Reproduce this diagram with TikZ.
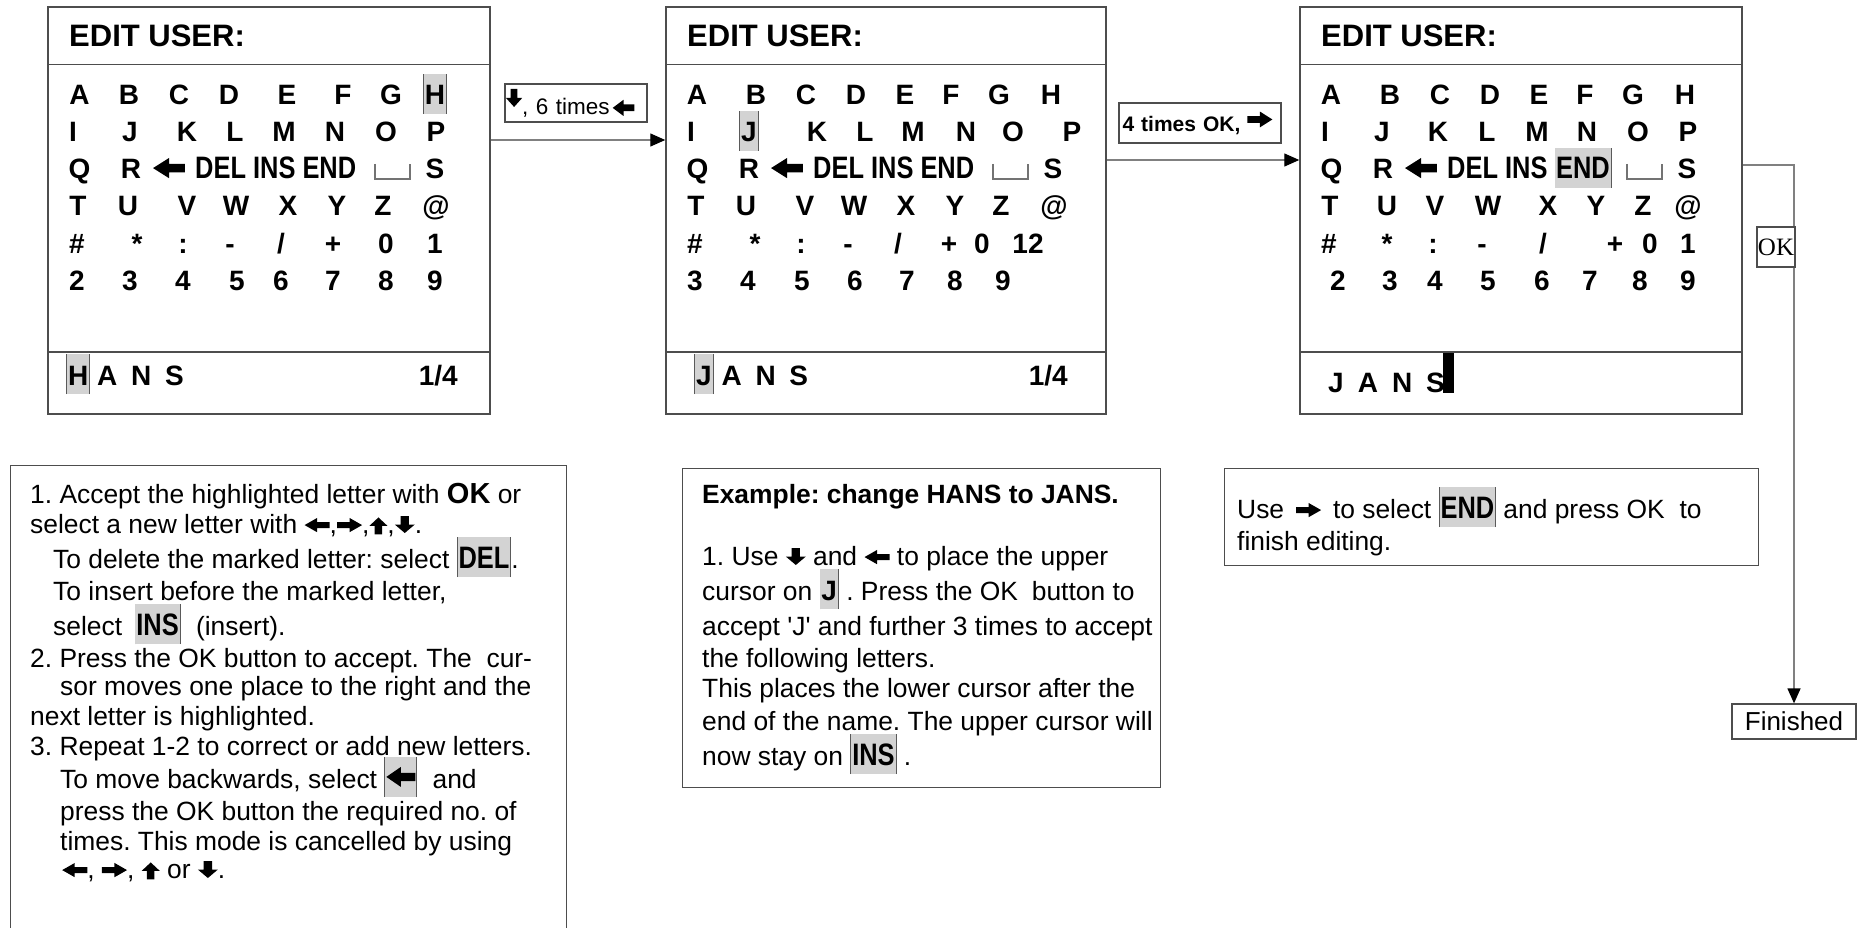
\documentclass[tikz,border=0pt]{standalone}
\usepackage{fontspec}
\setmainfont{Liberation Sans}
\newfontfamily\arialplain{Liberation Sans}
\newfontfamily\timesfont{Liberation Serif}
\usepackage{graphicx}
\usetikzlibrary{arrows.meta}
\frenchspacing
\definecolor{hlgray}{HTML}{D3D3D3}
\definecolor{hledge}{HTML}{5A5A5A}
\definecolor{boxline}{HTML}{4D4D4D}
\definecolor{linkgray}{HTML}{808080}
\newsavebox\hlbox
\newcommand\hl[1]{{\setlength\fboxsep{1pt}\sbox\hlbox{\colorbox{hlgray}{\rule[-8pt]{0pt}{38pt}#1}}\textcolor{hledge}{\vrule height\ht\hlbox depth\dp\hlbox width 0.9pt}\usebox\hlbox\textcolor{hledge}{\vrule height\ht\hlbox depth\dp\hlbox width 0.9pt}}}
% thick arrow: #1 angle, #2 length scale, #3 width scale, #4 raise of centre
\newcommand\tarr[4]{\tikz[baseline={(0pt,-#4)}]\fill[rotate=#1,xscale=#2,yscale=#3] (-0.5em,0pt) -- (0em,0.36em) -- (0em,0.15em) -- (0.5em,0.15em) -- (0.5em,-0.15em) -- (0em,-0.15em) -- (0em,-0.36em) -- cycle;}
\newcommand\tL{\tarr{0}{0.95}{0.75}{0.3em}}
\newcommand\tR{\tarr{180}{0.95}{0.75}{0.3em}}
\newcommand\tU{\tarr{-90}{0.64}{0.95}{0.27em}}
\newcommand\tD{\tarr{90}{0.64}{1.05}{0.32em}}
\newcommand\gridarrow{\tarr{0}{1.14}{1.0}{0.39em}}
\newcommand\slashch{/}
\newcommand\bodyfont{\fontsize{26.4}{31}\selectfont}
\newcommand\gridfont{\fontsize{28}{32}\selectfont\bfseries}
\newcommand\hdrfont{\fontsize{31}{36}\selectfont\bfseries}
\newcommand\cond[1]{\scalebox{0.82}[1]{\fontsize{31}{34}\selectfont\bfseries #1}}
\tikzset{
 scrbox/.style={draw=boxline, line width=1.5pt, minimum height=407pt, inner sep=0pt},
 sepline/.style={draw=boxline, line width=1.5pt},
 glyph/.style={anchor=base, inner sep=0pt, font=\gridfont},
 spacech/.style={draw=black!55, line width=1.2pt},
 tline/.style={anchor=base west, inner sep=0pt, font=\bodyfont},
 tbox/.style={draw=boxline, line width=1.3pt, inner sep=0pt},
 cnx/.style={draw=linkgray, line width=1.4pt, -{Triangle[length=15pt,width=13pt,color=black]}},
 lbl/.style={draw=boxline, line width=1.3pt, fill=white},
}
\newcommand\screenframe[3]{%
 \node[scrbox, minimum width=#3pt] (#1) at (#2+#3/2,210.5) {};
 \draw[sepline] (#2,64.5) -- (#2+#3,64.5);
 \draw[sepline] (#2,352) -- (#2+#3,352);
 \node[anchor=base west, inner sep=0pt, font=\hdrfont] (#1-title) at (#2+21,47) {EDIT USER:};}
\newcommand\gridrow[4]{\foreach \rx/\tx [count=\k] in {#4} {\node[glyph] (#1-#3-\k) at (#2+\rx,#3) {\tx};}}
\newcommand\rowthree[3]{%
 \node[glyph] (#1-q) at (#2+31.5,179) {Q};
 \node[glyph] (#1-r) at (#2+83,179) {R};
 \node[glyph] (#1-bk) at (#2+121,179) {\gridarrow};
 \node[glyph, anchor=base west] (#1-die) at (#2+147,179) {#3};
 \draw[spacech] (#2+327,164) -- (#2+327,179) -- (#2+362,179) -- (#2+362,164);
 \node[glyph] (#1-s) at (#2+387,179) {S};}
\begin{document}
\begin{tikzpicture}[x=1pt,y=-1pt]
\useasboundingbox (0,0) rectangle (1858,928);
\fill[white] (0,0) rectangle (1858,928);

% ---------- screen 1 ----------
\screenframe{s1}{48}{442}
\gridrow{s1}{48}{105}{31.5/A,81/B,131/C,181/D,239/E,295/F,343/G,387/{\hl{H}}}
\gridrow{s1}{48}{142}{25/I,82/J,139/K,187/L,236/M,287/N,338/O,388/P}
\rowthree{s1}{48}{\cond{DEL INS END}}
\gridrow{s1}{48}{216}{30/T,80/U,139/V,188/W,240/X,289/Y,335/Z,388/@}
\gridrow{s1}{48}{253}{29/\#,89/*,135/:,182/-,233/{\slashch},285/+,338/0,387/1}
\gridrow{s1}{48}{290}{29/2,82/3,135/4,189/5,233/6,285/7,338/8,387/9}
\node[glyph, anchor=base west] (s1-name) at (66,385) {\hl{H}\hspace{7pt}A\hspace{0.49em}N\hspace{0.49em}S};
\node[glyph, anchor=base east] (s1-page) at (458,385) {1/4};

% ---------- screen 2 ----------
\screenframe{s2}{666}{440}
\gridrow{s2}{666}{105}{31/A,90/B,140/C,190/D,239/E,285/F,333/G,385/H}
\gridrow{s2}{666}{142}{25/I,83/{\hl{J}},151/K,199/L,247/M,300/N,347/O,406/P}
\rowthree{s2}{666}{\cond{DEL INS END}}
\gridrow{s2}{666}{216}{30/T,80/U,139/V,188/W,240/X,289/Y,335/Z,388/@}
\gridrow{s2}{666}{253}{29/\#,89/*,135/:,182/-,232/{\slashch},283/+,316/0,362/12}
\gridrow{s2}{666}{290}{29/3,82/4,136/5,189/6,241/7,289/8,337/9}
\node[glyph, anchor=base west] (s2-name) at (694,385) {\hl{J}\hspace{8pt}A\hspace{0.49em}N\hspace{0.49em}S};
\node[glyph, anchor=base east] (s2-page) at (1068,385) {1/4};

% ---------- screen 3 ----------
\screenframe{s3}{1300}{442}
\gridrow{s3}{1300}{105}{31/A,90/B,140/C,190/D,239/E,285/F,333/G,385/H}
\gridrow{s3}{1300}{142}{25/I,82/J,138/K,187/L,237/M,287/N,338/O,388/P}
\rowthree{s3}{1300}{\cond{DEL INS \hl{END}}}
\gridrow{s3}{1300}{216}{30/T,87/U,135/V,188/W,248/X,296/Y,343/Z,388/@}
\gridrow{s3}{1300}{253}{29/\#,87/*,133/:,182/-,243/{\slashch},315/+,350/0,388/1}
\gridrow{s3}{1300}{290}{38/2,90/3,135/4,188/5,242/6,290/7,340/8,388/9}
\node[glyph, anchor=base west] (s3-name) at (1328,392) {J\hspace{0.5em}A\hspace{0.5em}N\hspace{0.5em}S};
\fill (1443,353) rectangle (1454,393);

% ---------- connectors ----------
\coordinate (c1) at (0,140);
\coordinate (c2) at (0,160);
\coordinate (c3) at (0,165);
\node[tbox, minimum width=124pt, minimum height=35pt, font=\fontsize{26}{30}\selectfont] (fin) at (1794,721.5) {Finished};
\draw[cnx] (s1.east |- c1) -- (s2.west |- c1);
\draw[cnx] (s2.east |- c2) -- (s3.west |- c2);
\draw[cnx] (s3.east |- c3) -| (fin.north);
\node[lbl, text width=140pt, inner xsep=1pt, inner ysep=0pt, minimum height=38pt, align=left, font=\fontsize{22.5}{26}\selectfont] (l1) at (576,103) {\tarr{90}{0.8}{1.0}{0.72em}, 6 times\hspace{3pt}\tarr{0}{0.96}{1.0}{0.28em}};
\node[lbl, text width=155pt, inner xsep=3.5pt, inner ysep=0pt, minimum height=40pt, align=left, font=\fontsize{21}{25}\selectfont\bfseries] (l2) at (1200,123) {4 times OK, \tarr{180}{1.19}{1.05}{0.56em}};
\node[lbl, minimum width=38pt, minimum height=40pt, inner sep=0pt, font=\timesfont\fontsize{25}{28}\selectfont] (okl) at (1776,247) {OK};

% ---------- left text box ----------
\node[tbox, minimum width=556pt, minimum height=480pt, anchor=north west] (lbox) at (10,465) {};
\node[tline] (t1) at (30,503) {1. Accept the highlighted letter with {\fontsize{29}{32}\selectfont\bfseries OK} or};
\node[tline] (t2) at (30,533) {select a new letter with \tL,\tR,\tU,\tD.};
\node[tline] (t3) at (53,568) {To delete the marked letter: select \hl{\cond{DEL}}.};
\node[tline] (t4) at (53,600) {To insert before the marked letter,};
\node[tline] (t5) at (53,635) {select \hspace{5pt}\hl{\cond{INS}}\hspace{8pt} (insert).};
\node[tline] (t6) at (30,667) {2. Press the OK button to accept. The \ cur-};
\node[tline] (t7) at (60,695) {sor moves one place to the right and the};
\node[tline] (t8) at (30,725) {next letter is highlighted.};
\node[tline] (t9) at (30,755) {3. Repeat 1-2 to correct or add new letters.};
\node[tline] (t10) at (60,788) {To move backwards, select \hl{\tarr{0}{1.1}{1.05}{0.42em}}\hspace{8pt} and};
\node[tline] (t11) at (60,820) {press the OK button the required no. of};
\node[tline] (t12) at (60,850) {times. This mode is cancelled by using};
\node[tline] (t13) at (62,878) {\tL, \tR, \tU{} or \tD.};

% ---------- example box ----------
\node[tbox, minimum width=478pt, minimum height=319pt, anchor=north west] (ebox) at (682,468) {};
\node[tline, font=\bodyfont\bfseries] (e0) at (702,503) {Example: change HANS to JANS.};
\node[tline] (e1) at (702,565) {1. Use \tD\ and \tL\ to place the upper};
\node[tline] (e2) at (702,600) {cursor on \hl{{\gridfont J}} . Press the OK\hspace{0.25em} button to};
\node[tline] (e3) at (702,635) {accept {\arialplain 'J'} and further 3 times to accept};
\node[tline] (e4) at (702,667) {the following letters.};
\node[tline] (e5) at (702,697) {This places the lower cursor after the};
\node[tline] (e6) at (702,730) {end of the name. The upper cursor will};
\node[tline] (e7) at (702,765) {now stay on \hl{\cond{INS}} .};

% ---------- use box ----------
\node[tbox, minimum width=534pt, minimum height=97pt, anchor=north west] (ubox) at (1224,468) {};
\node[tline] (u1) at (1237,518) {Use\hspace{0.45em}\tR\hspace{0.45em}to select \hl{\cond{END}} and press OK\ \ to};
\node[tline] (u2) at (1237,550) {finish editing.};
\end{tikzpicture}
\end{document}
